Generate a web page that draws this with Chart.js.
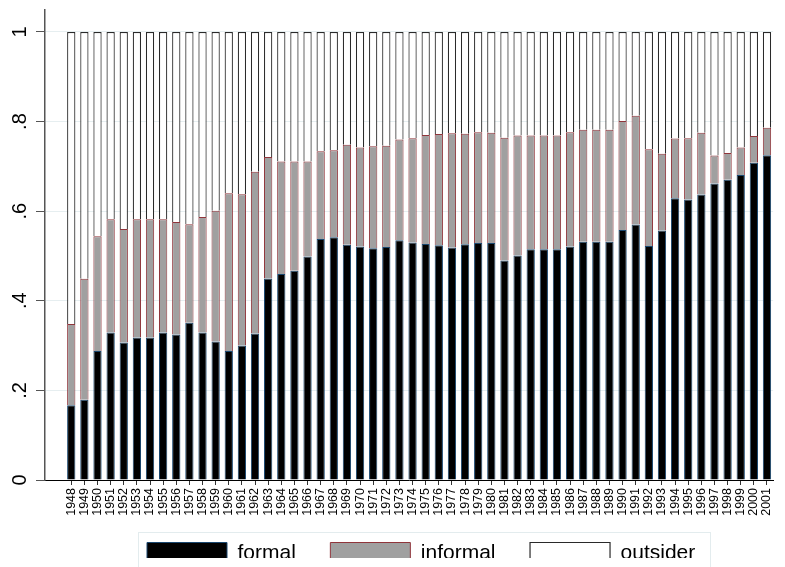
<!DOCTYPE html>
<html>
<head>
<meta charset="utf-8">
<script src="https://cdn.jsdelivr.net/npm/chart.js@4"></script>
<style>
  html, body { margin: 0; padding: 0; background: #fff; }
  #wrap { width: 785px; height: 567px; position: relative; }
</style>
</head>
<body>
<div id="wrap"><canvas id="shareChart"></canvas></div>
<script>
const years = [1948, 1949, 1950, 1951, 1952, 1953, 1954, 1955, 1956, 1957,
  1958, 1959, 1960, 1961, 1962, 1963, 1964, 1965, 1966, 1967,
  1968, 1969, 1970, 1971, 1972, 1973, 1974, 1975, 1976, 1977,
  1978, 1979, 1980, 1981, 1982, 1983, 1984, 1985, 1986, 1987,
  1988, 1989, 1990, 1991, 1992, 1993, 1994, 1995, 1996, 1997,
  1998, 1999, 2000, 2001];

const formal = [.167, .179, .288, .329, .307, .318, .318, .329, .325, .351,
  .329, .309, .288, .300, .327, .450, .460, .467, .499, .538,
  .542, .525, .521, .517, .520, .535, .530, .527, .524, .519,
  .526, .529, .529, .490, .501, .515, .515, .515, .521, .532,
  .532, .532, .558, .570, .522, .557, .629, .626, .637, .662,
  .670, .681, .708, .725];

const informal = [.181, .270, .256, .253, .253, .264, .264, .253, .251, .220,
  .258, .292, .352, .338, .361, .271, .251, .244, .212, .196,
  .194, .223, .221, .228, .226, .225, .233, .243, .248, .255,
  .247, .247, .246, .274, .268, .254, .254, .254, .255, .250,
  .250, .250, .243, .243, .216, .171, .133, .137, .138, .062,
  .060, .061, .060, .061];

const outsider = [.652, .551, .456, .418, .440, .418, .418, .418, .424, .429,
  .413, .399, .360, .362, .312, .279, .289, .289, .289, .266,
  .264, .252, .258, .255, .254, .240, .237, .230, .228, .226,
  .227, .224, .225, .236, .231, .231, .231, .231, .224, .218,
  .218, .218, .199, .187, .262, .272, .238, .237, .225, .276,
  .270, .258, .232, .214];

const yTicks = [0, .2, .4, .6, .8, 1];
const yTickLabels = ['0', '.2', '.4', '.6', '.8', '1'];

const FONT = '"Liberation Sans", Arial, sans-serif';

// moves the legend to where stata puts it and draws its frame
const legendFrame = {
  id: 'legendFrame',
  afterLayout(chart) {
    const lg = chart.legend;
    const h = lg.bottom - lg.top;
    const dx = 112.5 - lg.left;
    lg.left += dx;
    lg.right += dx;
    lg.top = 508;
    lg.bottom = 508 + h;
  },
  beforeDraw(chart) {
    const ctx = chart.ctx;
    ctx.save();
    ctx.fillStyle = '#fff';
    ctx.fillRect(0, 0, chart.width, chart.height);
    ctx.strokeStyle = '#e3ecee';
    ctx.lineWidth = 1;
    ctx.strokeRect(138.5, 532.5, 572, 60);
    ctx.restore();
  }
};

// y tick labels, turned 90 degrees and centred on their ticks
const yLabels = {
  id: 'yLabels',
  afterDraw(chart) {
    const ctx = chart.ctx;
    const y = chart.scales.y;
    ctx.save();
    ctx.fillStyle = '#000';
    ctx.font = '20px ' + FONT;
    ctx.textAlign = 'center';
    ctx.textBaseline = 'middle';
    yTicks.forEach((v, i) => {
      ctx.save();
      ctx.translate(y.left + 20, y.getPixelForValue(v));
      ctx.rotate(-Math.PI / 2);
      ctx.fillText(yTickLabels[i], 0, 0);
      ctx.restore();
    });
    ctx.restore();
  }
};

function initChart() {
  const ctx = document.getElementById('shareChart').getContext('2d');
  new Chart(ctx, {
    type: 'bar',
    data: {
      labels: years,
      datasets: [{
        label: 'formal',
        data: formal,
        backgroundColor: '#000000',
        borderColor: '#1a476f',
        borderWidth: 1
      }, {
        label: 'informal',
        data: informal,
        backgroundColor: '#a0a0a0',
        borderColor: '#90353b',
        borderWidth: 1
      }, {
        label: 'outsider',
        data: outsider,
        backgroundColor: '#ffffff',
        borderColor: '#2a2a2a',
        borderWidth: 1.2
      }]
    },
    options: {
      responsive: true,
      maintainAspectRatio: false,
      animation: false,
      layout: { padding: { top: 10, right: 2, bottom: 0, left: 0 } },
      datasets: { bar: { categoryPercentage: 1, barPercentage: 0.63 } },
      plugins: {
        tooltip: { enabled: false },
        legend: {
          position: 'bottom',
          align: 'start',
          maxHeight: 50,
          labels: {
            boxWidth: 80,
            boxHeight: 22,
            padding: 34.5,
            color: '#000',
            font: { family: FONT, size: 21 }
          }
        }
      },
      scales: {
        x: {
          type: 'linear',
          stacked: true,
          min: 1946,
          max: 2001.47,
          offset: false,
          afterFit: s => { s.height = 37; },
          afterBuildTicks: s => {
            s.ticks = years.map(v => ({ value: v }));
          },
          ticks: {
            autoSkip: false,
            minRotation: 90,
            maxRotation: 90,
            padding: 3,
            color: '#000',
            font: { family: FONT, size: 12.5 },
            callback: v => String(v)
          },
          grid: { drawOnChartArea: false, offset: false, tickLength: 5, tickColor: '#333' },
          border: { color: '#000', width: 1 }
        },
        y: {
          stacked: true,
          min: 0,
          max: 1.049,
          afterFit: s => { s.width = 45; },
          afterBuildTicks: s => {
            s.ticks = yTicks.map(v => ({ value: v }));
          },
          ticks: { display: false },
          grid: { color: '#e6eef0', lineWidth: 1, tickLength: 9, tickColor: '#555' },
          border: { color: '#555', width: 1.5 }
        }
      }
    },
    plugins: [legendFrame, yLabels]
  });
}

window.addEventListener('load', initChart);
</script>
</body>
</html>
